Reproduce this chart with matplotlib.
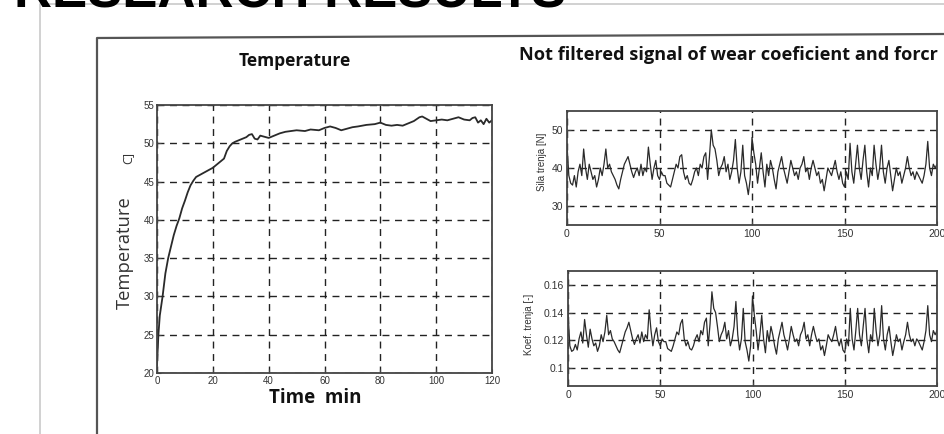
import numpy as np
import matplotlib
matplotlib.use("Agg")
import matplotlib.pyplot as plt

# Temperature curve (min, deg C)
temp_time = [0, 0.5, 1, 2, 3, 4, 5, 6, 7, 8, 9, 10, 11, 12, 13, 14, 15, 16, 18, 20,
             22, 23, 24, 25, 26, 27, 28, 30, 32, 33, 34, 35, 36, 37, 38, 40, 42, 44,
             46, 48, 50, 53, 55, 58, 60, 62, 64, 66, 68, 70, 72, 75, 78, 80, 82, 84,
             86, 88, 90, 92, 94, 95, 96, 98, 100, 102, 104, 106, 108, 110, 112, 113,
             114, 115, 116, 117, 118, 119, 120]
temp_vals = [21.0, 25.0, 27.5, 30.0, 33.0, 35.0, 36.5, 38.0, 39.2, 40.2, 41.5, 42.5,
             43.6, 44.5, 45.1, 45.6, 45.8, 46.0, 46.4, 46.8, 47.4, 47.7, 48.0, 49.0,
             49.6, 50.0, 50.2, 50.5, 50.8, 51.1, 51.2, 50.6, 50.5, 51.0, 50.9, 50.7,
             51.0, 51.3, 51.5, 51.6, 51.7, 51.6, 51.8, 51.7, 52.0, 52.2, 52.0, 51.7,
             51.9, 52.1, 52.2, 52.4, 52.5, 52.7, 52.4, 52.3, 52.4, 52.3, 52.6, 52.9,
             53.4, 53.5, 53.3, 52.9, 53.0, 53.1, 53.0, 53.2, 53.4, 53.1, 53.0, 53.3,
             53.4, 52.7, 53.0, 52.5, 53.2, 52.7, 53.0]

# Not filtered signals, sample index 0..200
sample = list(range(201))
force = [46, 38, 36, 35.5, 38, 35, 39, 41, 38, 45, 40, 37, 41, 39, 37, 38, 35, 37, 40, 38,
         41, 45, 40, 41, 39, 38, 37, 35.5, 34.5, 37, 39, 41, 42, 43, 41, 39, 37.5, 39, 40, 38,
         41, 38, 40, 39, 45.5, 41, 37, 40, 42, 38, 37, 39, 38, 38, 36, 35.5, 35, 37, 39, 41,
         40, 43, 43.5, 39, 37, 38, 36, 35.5, 37, 39, 40, 38, 41, 40, 43, 44, 37, 43, 50, 46,
         45, 42, 38, 40, 41, 43, 39, 41, 37, 39, 42, 47.5, 40, 36, 39, 46, 38, 36, 33, 37,
         48, 44, 41, 36, 40, 44, 39, 35, 41, 38, 42, 40, 37, 34.5, 39, 41, 43, 40, 38, 36,
         39, 42, 40, 38, 39, 37, 40, 41, 43, 39, 40, 37, 40, 42, 40, 38, 39, 36, 37, 34,
         37, 40, 39, 38, 40, 42, 39, 37, 39, 36, 35, 39, 37, 46.5, 39, 36, 41, 46, 40, 37,
         42, 46, 39, 35, 40, 38, 46, 41, 37, 40, 46, 39, 36, 40, 42, 38, 34, 37, 40, 38,
         39, 36, 38, 40, 43, 40, 38, 39, 37, 39, 38, 37, 36, 38, 41, 47, 40, 38, 41, 40, 41]
coef = [0.140, 0.116, 0.112, 0.113, 0.117, 0.113, 0.121, 0.126, 0.118, 0.135,
        0.124, 0.115, 0.128, 0.121, 0.116, 0.118, 0.112, 0.116, 0.124, 0.119,
        0.126, 0.138, 0.124, 0.127, 0.121, 0.119, 0.116, 0.113, 0.111, 0.116,
        0.121, 0.126, 0.129, 0.133, 0.127, 0.121, 0.117, 0.121, 0.124, 0.118,
        0.126, 0.119, 0.124, 0.121, 0.142, 0.127, 0.116, 0.124, 0.129, 0.119,
        0.116, 0.121, 0.119, 0.119, 0.114, 0.113, 0.112, 0.116, 0.121, 0.126,
        0.124, 0.132, 0.135, 0.121, 0.116, 0.119, 0.114, 0.113, 0.116, 0.121,
        0.124, 0.119, 0.127, 0.124, 0.133, 0.136, 0.116, 0.132, 0.155, 0.143,
        0.140, 0.130, 0.119, 0.124, 0.127, 0.133, 0.121, 0.127, 0.116, 0.121,
        0.130, 0.148, 0.124, 0.113, 0.121, 0.143, 0.119, 0.113, 0.105, 0.116,
        0.152, 0.138, 0.127, 0.113, 0.124, 0.138, 0.121, 0.111, 0.127, 0.119,
        0.130, 0.124, 0.116, 0.110, 0.121, 0.127, 0.133, 0.124, 0.119, 0.113,
        0.121, 0.130, 0.124, 0.119, 0.121, 0.116, 0.124, 0.127, 0.133, 0.121,
        0.124, 0.116, 0.124, 0.130, 0.124, 0.119, 0.121, 0.113, 0.116, 0.109,
        0.116, 0.124, 0.121, 0.119, 0.124, 0.130, 0.121, 0.116, 0.121, 0.113,
        0.111, 0.121, 0.116, 0.143, 0.121, 0.113, 0.127, 0.143, 0.124, 0.116,
        0.130, 0.143, 0.121, 0.111, 0.124, 0.119, 0.143, 0.127, 0.116, 0.124,
        0.145, 0.121, 0.113, 0.124, 0.130, 0.119, 0.109, 0.116, 0.124, 0.119,
        0.121, 0.113, 0.119, 0.124, 0.133, 0.124, 0.119, 0.121, 0.116, 0.121,
        0.119, 0.116, 0.113, 0.119, 0.127, 0.145, 0.124, 0.119, 0.127, 0.124,
        0.127]

temp_xticks = [0, 20, 40, 60, 80, 100, 120]
temp_yticks = [20, 25, 30, 35, 40, 45, 50, 55]
sig_xticks = [0, 50, 100, 150, 200]
force_yticks = [30, 40, 50]
coef_yticks = [0.1, 0.12, 0.14, 0.16]
coef_ylabels = ["0.1", "0.12", "0.14", "0.16"]

W, H = 944, 434
fig = plt.figure(figsize=(W / 100, H / 100), dpi=100)
fig.patch.set_facecolor("white")

# slide decorations in pixel coordinates
bg = fig.add_axes([0, 0, 1, 1])
bg.set_xlim(0, W)
bg.set_ylim(H, 0)
bg.axis("off")
bg.plot([40, 40, W], [H, 4, 4], color="#c9c9c9", lw=1.2)
bg.plot([97, 97, W], [H, 38, 34], color="#555555", lw=1.6)
bg.text(14, 8, "RESEARCH RESULTS", fontsize=38, fontweight="bold",
        family="Liberation Sans", va="baseline", ha="left", color="black")
bg.text(295, 61, "Temperature", fontsize=12.5, fontweight="bold",
        family="Open Sans", ha="center", va="center", color="#111111")
bg.text(519, 55, "Not filtered signal of wear coeficient and forcr", fontsize=13.1,
        fontweight="bold", family="Open Sans", ha="left", va="center", color="#111111")
bg.text(125, 253, "Temperature", fontsize=13.2, family="Open Sans", rotation=90,
        ha="center", va="center", color="#333333")
bg.text(128, 158, "C]", fontsize=9, family="Open Sans", rotation=90,
        ha="center", va="center", color="#333333")
bg.text(315, 398, "Time  min", fontsize=13.5, fontweight="bold",
        family="Open Sans", ha="center", va="center", color="#111111")
bg.text(542, 162, "Sila trenja [N]", fontsize=7, family="Liberation Sans",
        rotation=90, ha="center", va="center", color="#333333")
bg.text(529, 324, "Koef. trenja [-]", fontsize=7, family="Liberation Sans",
        rotation=90, ha="center", va="center", color="#333333")


def style(ax, fs, pad=3):
    ax.grid(True, color="#222222", linestyle=(0, (5, 4)), linewidth=1.0)
    ax.set_axisbelow(True)
    for s in ax.spines.values():
        s.set_color("#444444")
        s.set_linewidth(1.3)
    ax.tick_params(direction="in", length=3, width=0.8, colors="#444444",
                   labelsize=fs, labelcolor="#333333", pad=pad)
    for lab in ax.get_xticklabels() + ax.get_yticklabels():
        lab.set_family("Liberation Sans")


# temperature
ax1 = fig.add_axes([157 / W, 1 - 373 / H, 335 / W, 268 / H])
ax1.plot(temp_time, temp_vals, color="#2a2a2a", lw=1.3)
ax1.set_xlim(0, 120)
ax1.set_ylim(20, 55)
ax1.set_xticks(temp_xticks)
ax1.set_yticks(temp_yticks)
style(ax1, 7, pad=2)

# friction force
ax2 = fig.add_axes([567 / W, 1 - 225 / H, 370 / W, 114 / H])
ax2.plot(sample, force, color="#2a2a2a", lw=0.9)
ax2.set_xlim(0, 200)
ax2.set_ylim(25, 55)
ax2.set_xticks(sig_xticks)
ax2.set_yticks(force_yticks)
style(ax2, 7.5)

# friction coefficient
ax3 = fig.add_axes([568 / W, 1 - 386 / H, 369 / W, 115 / H])
ax3.plot(sample, coef, color="#2a2a2a", lw=0.9)
ax3.set_xlim(0, 200)
ax3.set_ylim(0.087, 0.17)
ax3.set_xticks(sig_xticks)
ax3.set_yticks(coef_yticks)
ax3.set_yticklabels(coef_ylabels)
style(ax3, 7.5)

fig.savefig("out.png", dpi=100, facecolor="white")
